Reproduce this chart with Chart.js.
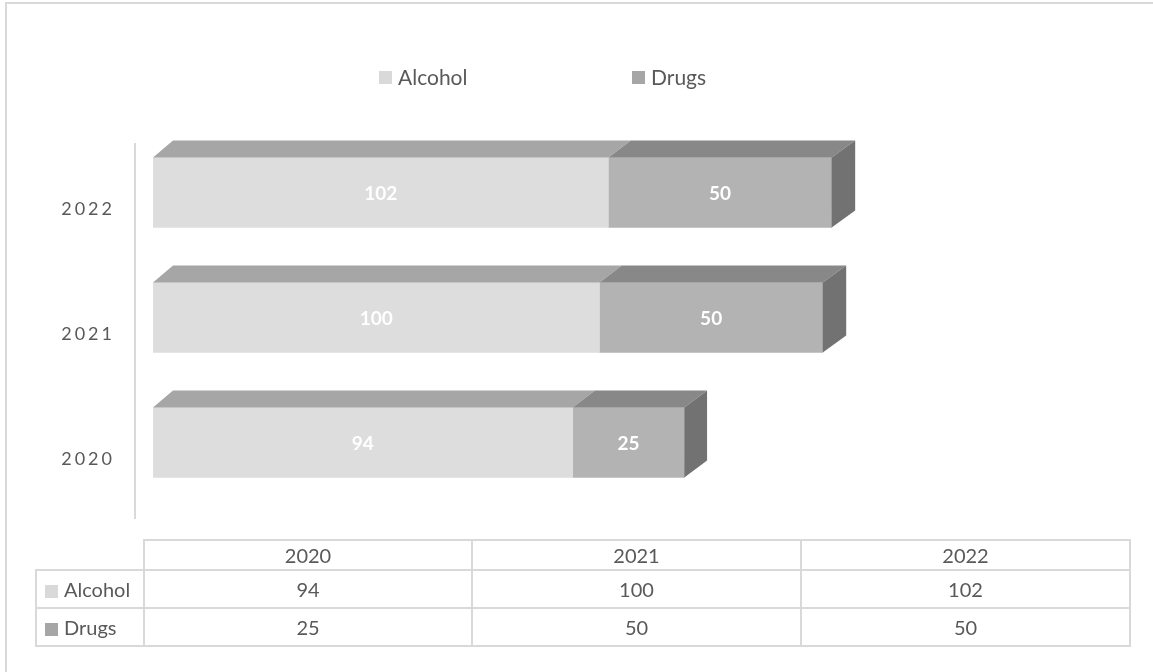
<!DOCTYPE html>
<html><head><meta charset="utf-8">
<script src="https://cdn.jsdelivr.net/npm/chart.js@4.4.1/dist/chart.umd.min.js"></script>
<style>
html,body{margin:0;padding:0;background:#fff;}
body{width:1153px;height:672px;position:relative;overflow:hidden;font-family:Lato,'Open Sans',sans-serif;color:#595959;}
#frame{position:absolute;left:5px;top:2px;width:1300px;height:800px;border-left:2px solid #d9d9d9;border-top:2px solid #d9d9d9;box-sizing:border-box;}
#wrap{position:absolute;left:0;top:0;width:1153px;height:540px;}
.leg{position:absolute;top:66px;font-size:21px;line-height:22px;display:flex;align-items:center;white-space:nowrap;}
.sw{width:13px;height:13px;display:inline-block;margin-right:6px;}
table{position:absolute;left:35px;top:539px;border-collapse:collapse;table-layout:fixed;font-size:20px;color:#595959;}
td{border:2px solid #d9d9d9;text-align:center;padding:0;white-space:nowrap;}
td.name{text-align:left;padding-left:8px;}
td.name .sw{vertical-align:-1px;}
td.blank{border-top:hidden;border-left:hidden;}
</style></head>
<body>
<div id="frame"></div>
<div id="wrap"><canvas id="c"></canvas></div>
<div id="legend"></div>
<table id="tbl"></table>
<script>
const categories = ['2020', '2021', '2022'];
const seriesNames = ['Alcohol', 'Drugs'];
const alcohol = [94, 100, 102];
const drugs = [25, 50, 50];
const seriesValues = [alcohol, drugs];

const legendColors = ['#d9d9d9', '#a6a6a6'];
const frontColors = ['#dddddd', '#b3b3b3'];
const topColors = ['#a6a6a6', '#888888'];
const sideColor = '#727272';

// HTML legend
const legendLeft = [379, 632];
const legendDiv = document.getElementById('legend');
seriesNames.forEach((n, i) => {
  const d = document.createElement('div');
  d.className = 'leg';
  d.style.left = legendLeft[i] + 'px';
  d.innerHTML = '<span class="sw" style="background:' + legendColors[i] + '"></span>' + n;
  legendDiv.appendChild(d);
});

// HTML data table
const tbl = document.getElementById('tbl');
const colW = [108, 328, 329, 329];
let html = '<colgroup>' + colW.map(w => '<col style="width:' + w + 'px">').join('') + '</colgroup>';
html += '<tr style="height:30px"><td class="blank"></td>' + categories.map(c => '<td>' + c + '</td>').join('') + '</tr>';
seriesNames.forEach((n, i) => {
  html += '<tr style="height:38px"><td class="name"><span class="sw" style="background:' + legendColors[i] + '"></span>' + n + '</td>' +
    seriesValues[i].map(v => '<td>' + v + '</td>').join('') + '</tr>';
});
tbl.innerHTML = html;

const letterSpacing = {
  id: 'letterSpacing',
  beforeDraw(chart) { chart.ctx.letterSpacing = '3px'; },
  beforeDatasetsDraw(chart) { chart.ctx.letterSpacing = '0px'; }
};

const threeD = {
  id: 'threeD',
  beforeDatasetsDraw(chart) {
    const ctx = chart.ctx, a = chart.chartArea;
    ctx.save();
    ctx.strokeStyle = '#d9d9d9';
    ctx.lineWidth = 2;
    ctx.beginPath();
    ctx.moveTo(a.left - 18, a.top + 13);
    ctx.lineTo(a.left - 18, a.bottom + 14);
    ctx.stroke();
    ctx.restore();
  },
  afterDatasetsDraw(chart) {
    const ctx = chart.ctx, a = chart.chartArea;
    const W = a.right - a.left;
    const dxAt = x => 20 + 4.6 * (x - a.left) / W;
    const dy = 17;
    ctx.save();
    const n = chart.data.datasets.length;
    for (let d = 0; d < n; d++) {
      const meta = chart.getDatasetMeta(d);
      meta.data.forEach(bar => {
        const p = bar.getProps(['x', 'y', 'base', 'height'], true);
        const l = Math.min(p.base, p.x), r = Math.max(p.base, p.x);
        const t = p.y - p.height / 2, b = p.y + p.height / 2;
        ctx.fillStyle = topColors[d];
        ctx.beginPath();
        ctx.moveTo(l, t); ctx.lineTo(r, t);
        ctx.lineTo(r + dxAt(r), t - dy); ctx.lineTo(l + dxAt(l), t - dy);
        ctx.closePath(); ctx.fill();
        if (d === n - 1) {
          ctx.fillStyle = sideColor;
          ctx.beginPath();
          ctx.moveTo(r, t); ctx.lineTo(r + dxAt(r), t - dy);
          ctx.lineTo(r + dxAt(r), b - dy); ctx.lineTo(r, b);
          ctx.closePath(); ctx.fill();
        }
      });
    }
    ctx.fillStyle = '#ffffff';
    ctx.font = 'bold 19px Lato, sans-serif';
    ctx.textAlign = 'center';
    ctx.textBaseline = 'middle';
    for (let d = 0; d < n; d++) {
      const meta = chart.getDatasetMeta(d);
      meta.data.forEach((bar, i) => {
        const p = bar.getProps(['x', 'y', 'base'], true);
        ctx.fillText(String(chart.data.datasets[d].data[i]), (p.base + p.x) / 2, p.y + 1);
      });
    }
    ctx.restore();
  }
};

new Chart(document.getElementById('c'), {
  type: 'bar',
  data: {
    labels: categories,
    datasets: seriesNames.map((n, i) => ({
      label: n,
      data: seriesValues[i],
      backgroundColor: frontColors[i],
      borderWidth: 0,
      barThickness: 70
    }))
  },
  options: {
    indexAxis: 'y',
    responsive: true,
    maintainAspectRatio: false,
    animation: false,
    layout: { padding: { left: 0, right: 107, top: 130, bottom: 35 } },
    plugins: { legend: { display: false }, tooltip: { enabled: false } },
    scales: {
      x: { stacked: true, display: false, min: 0, max: 200 },
      y: {
        stacked: true,
        reverse: true,
        grid: { display: false, drawTicks: false },
        border: { display: false },
        ticks: { color: '#595959', font: { family: 'Lato', size: 18 }, padding: 38, labelOffset: 17 },
        afterFit(scale) { scale.width = 153; scale.paddingTop = 0; scale.paddingBottom = 0; }
      }
    }
  },
  plugins: [letterSpacing, threeD]
});
</script>
</body></html>
